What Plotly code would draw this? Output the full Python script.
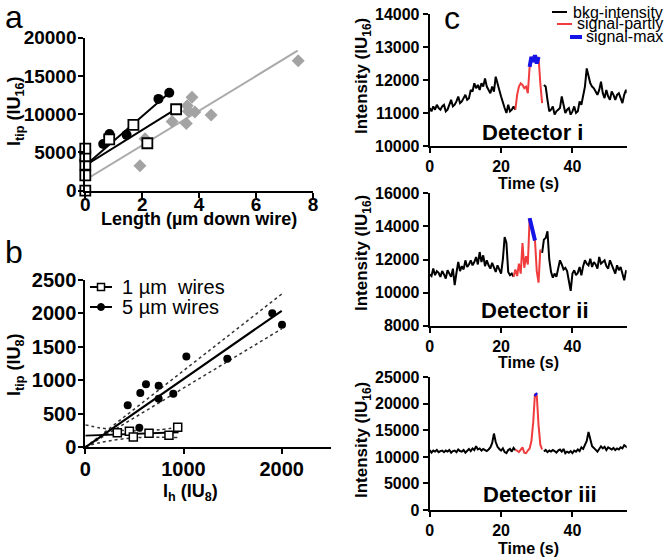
import plotly.graph_objects as go

# ---------------- Panel a data ----------------
a_circ_x = [0, 0, 0, 0.63, 0.82, 0.85, 1.45, 2.57, 2.95]
a_circ_y = [2200, 2700, 4600, 6100, 7100, 7400, 7300, 12000, 12800]
a_sq_x = [0, 0, 0, 0, 0, 0.84, 1.69, 2.18, 3.19]
a_sq_y = [0, 2000, 3400, 4500, 5500, 6700, 8600, 6200, 10650]
a_dia_x = [1.92, 2.1, 3.05, 3.55, 3.58, 3.62, 3.75, 3.85, 4.42, 7.48]
a_dia_y = [3250, 6800, 9050, 8800, 11100, 10400, 12200, 10300, 9900, 17000]
a_fit_circ_x = [0, 2.95]
a_fit_circ_y = [3300, 12800]
a_fit_sq_x = [0, 3.19]
a_fit_sq_y = [3300, 10700]
a_fit_dia_x = [0, 7.46]
a_fit_dia_y = [1400, 18300]

# ---------------- Panel b data ----------------
b_sq_x = [326, 449, 489, 649, 852, 941]
b_sq_y = [219, 239, 154, 209, 179, 299]
b_circ_x = [432, 550, 560, 618, 747, 747, 896, 1029, 1446, 1904, 2003]
b_circ_y = [628, 293, 811, 941, 921, 727, 801, 1355, 1325, 2003, 1833]
b_fit5_x = [0, 2000]
b_fit5_y = [0, 2040]
b_up5_y = [0, 2290]
b_lo5_y = [0, 1770]
b_fit1_x = [0, 950]
b_fit1_y = [175, 225]
b_band1_x = [0, 150, 300, 450, 600, 750, 950]
b_up1_y = [335, 290, 262, 248, 248, 262, 300]
b_lo1_y = [15, 70, 110, 135, 150, 150, 145]

# ---------------- Panel c data (0.5 s sampling) ----------------
det1 = [11150, 11050, 11200, 11100, 11250, 11150, 11100, 11200, 11250, 11050,
        11100, 11250, 11400, 11200, 11250, 11350, 11500, 11300, 11350, 11450,
        11550, 11400, 11450, 11700, 11650, 11900, 11750, 11850, 11700, 11900,
        11800, 12050, 11800, 11700, 11600, 11800, 11650, 12100, 11850, 11700,
        11500, 11300, 11150, 11000, 11250, 11050, 11100, 11200, 11100, 11550,
        11800, 11900, 11850, 11750, 11800, 11600, 12400, 12700, 12550, 12750,
        12500, 12700, 11900, 11300, 11850, 11800, 11400, 11050, 11100, 11200,
        10950, 11050, 11100, 11150, 11500, 11200, 11000, 11100, 11150, 10950,
        11050, 11200, 11000, 11050, 11350, 11250, 11500, 11800, 12350, 12100,
        11900, 11800, 11750, 11650, 11550, 11700, 11950, 11600, 11450, 11700,
        11500, 11400, 11650, 11550, 11400, 11550, 11600, 11450, 11300, 11550,
        11700, 11600]
det2 = [11100, 11000, 11450, 11050, 11300, 11200, 10950, 11300, 11100, 10850,
        11350, 11100, 10950, 11450, 10450, 11200, 11850, 11300, 11600, 11400,
        11950, 11550, 11700, 11950, 11650, 11850, 12150, 11700, 12450, 11850,
        12250, 11600, 11950, 11650, 11450, 11800, 11550, 11250, 11650, 11350,
        11150, 12000, 13350, 13000, 11250, 11050, 11150, 10950, 11400, 11000,
        11750, 11150, 13000, 11500, 12200, 11700, 14500, 13900, 13600, 13150,
        11300, 10600, 12600, 12400, 13200, 13300, 13700, 12000, 11250, 10900,
        11150, 10950, 11500, 11950, 11700, 11400, 11500, 11300, 10700, 10100,
        11150, 11350, 11050, 11200, 11550, 11050, 11600, 11950, 11750, 11650,
        12050, 11550, 11850, 11700, 11450, 12150, 11750, 11850, 11950, 11600,
        11450, 11950, 11700, 11400, 11150, 11650, 11350, 11550, 11200, 10750,
        11300, 11250]
det3 = [11300, 10800, 11200, 11000, 11300, 10900, 11100, 11200, 10900, 11200,
        11000, 11300, 10800, 11100, 11200, 10900, 11400, 11100, 11000, 11300,
        10800, 11200, 11500, 11100, 11600, 11300, 12000, 11400, 11600, 11200,
        11500, 11300, 11100, 11400, 11800, 12600, 14400, 12800, 11900, 11500,
        11200, 11600, 10900, 10700, 11300, 11500, 11000, 11700, 11300, 11200,
        10900, 11300, 11800, 10800, 10700, 11200, 11600, 13000, 16500, 21900,
        21600, 16000, 12300, 11400, 11000, 11300, 10900, 11200, 11000, 11300,
        11100, 10800, 11200, 11400, 11000, 11500, 10700, 11000, 10800, 11100,
        10700, 11200, 11000, 11400, 11100, 11800, 11500, 12200, 13000, 14700,
        13000, 12000, 11700, 11300, 11000, 11500, 12000, 11600, 11900, 11300,
        11800, 11600, 11400, 11700, 11300, 11600, 11400, 11800, 11600, 12200,
        12000, 11700]
# event times: red start, blue start, blue end, red end, background resumes
det1_events = [24.0, 28.0, 30.5, 31.5, 32.0]
det2_events = [23.5, 28.0, 29.5, 31.0, 31.5]
det3_events = [24.0, 29.5, 30.0, 31.5, 32.0]
det_names = ["Detector i", "Detector ii", "Detector iii"]

FONT = "Arial, Liberation Sans, sans-serif"
fig = go.Figure()

W, H = 666, 557
def px(x): return x / W
def py(y): return 1 - y / H

def axstyle(size, **kw):
    d = dict(showline=True, linecolor="black", linewidth=2, ticks="outside",
             ticklen=5, tickwidth=2, tickcolor="black", showgrid=False,
             zeroline=False, automargin=False, tickformat="d",
             tickfont=dict(family=FONT, size=size, color="black", weight="bold"))
    d.update(kw)
    return d

# Panel a
fig.add_trace(go.Scatter(x=a_fit_dia_x, y=a_fit_dia_y, mode="lines", line=dict(color="#aaaaaa", width=2),
                         xaxis="x", yaxis="y", showlegend=False))
fig.add_trace(go.Scatter(x=a_dia_x, y=a_dia_y, mode="markers",
                         marker=dict(symbol="diamond", size=10, color="#a3a3a3"),
                         xaxis="x", yaxis="y", showlegend=False, cliponaxis=False))
fig.add_trace(go.Scatter(x=a_fit_circ_x, y=a_fit_circ_y, mode="lines", line=dict(color="black", width=2),
                         xaxis="x", yaxis="y", showlegend=False))
fig.add_trace(go.Scatter(x=a_fit_sq_x, y=a_fit_sq_y, mode="lines", line=dict(color="black", width=2),
                         xaxis="x", yaxis="y", showlegend=False))
fig.add_trace(go.Scatter(x=a_circ_x, y=a_circ_y, mode="markers",
                         marker=dict(symbol="circle", size=10, color="black"),
                         xaxis="x", yaxis="y", showlegend=False, cliponaxis=False))
fig.add_trace(go.Scatter(x=a_sq_x, y=a_sq_y, mode="markers",
                         marker=dict(symbol="square", size=10, color="white", line=dict(color="black", width=1.8)),
                         xaxis="x", yaxis="y", showlegend=False, cliponaxis=False))

# Panel b
dot = dict(color="#333333", width=1.5, dash="dot")
fig.add_trace(go.Scatter(x=b_fit5_x, y=b_up5_y, mode="lines", line=dot, xaxis="x2", yaxis="y2", showlegend=False))
fig.add_trace(go.Scatter(x=b_fit5_x, y=b_lo5_y, mode="lines", line=dot, xaxis="x2", yaxis="y2", showlegend=False))
fig.add_trace(go.Scatter(x=b_band1_x, y=b_up1_y, mode="lines", line=dict(dot, shape="spline"), xaxis="x2", yaxis="y2", showlegend=False))
fig.add_trace(go.Scatter(x=b_band1_x, y=b_lo1_y, mode="lines", line=dict(dot, shape="spline"), xaxis="x2", yaxis="y2", showlegend=False))
fig.add_trace(go.Scatter(x=b_fit5_x, y=b_fit5_y, mode="lines", line=dict(color="black", width=2.2),
                         xaxis="x2", yaxis="y2", showlegend=False))
fig.add_trace(go.Scatter(x=b_fit1_x, y=b_fit1_y, mode="lines", line=dict(color="black", width=1.8),
                         xaxis="x2", yaxis="y2", showlegend=False))
fig.add_trace(go.Scatter(x=b_circ_x, y=b_circ_y, mode="markers",
                         marker=dict(symbol="circle", size=8, color="black"),
                         xaxis="x2", yaxis="y2", showlegend=False, cliponaxis=False))
fig.add_trace(go.Scatter(x=b_sq_x, y=b_sq_y, mode="markers",
                         marker=dict(symbol="square", size=8, color="white", line=dict(color="black", width=1.5)),
                         xaxis="x2", yaxis="y2", showlegend=False, cliponaxis=False))

# Panel c
def segment(t, v, lo, hi):
    xs, ys = [], []
    for ti, vi in zip(t, v):
        if lo - 1e-9 <= ti <= hi + 1e-9:
            xs.append(ti); ys.append(vi)
    return xs, ys

for k, (vals, ev) in enumerate([(det1, det1_events), (det2, det2_events), (det3, det3_events)]):
    t = [0.5 * i for i in range(len(vals))]
    xa, ya = "x%d" % (k + 3), "y%d" % (k + 3)
    bx1, by1 = segment(t, vals, 0, ev[0])
    bx2, by2 = segment(t, vals, ev[4], t[-1])
    fig.add_trace(go.Scatter(x=bx1 + [None] + bx2, y=by1 + [None] + by2, mode="lines",
                             line=dict(color="black", width=2), xaxis=xa, yaxis=ya, showlegend=False))
    rx, ry = segment(t, vals, ev[0], ev[3])
    fig.add_trace(go.Scatter(x=rx, y=ry, mode="lines", line=dict(color="#f03c3c", width=2),
                             xaxis=xa, yaxis=ya, showlegend=False))
    ux, uy = segment(t, vals, ev[1], ev[2])
    fig.add_trace(go.Scatter(x=ux, y=uy, mode="lines", line=dict(color="#1414e6", width=4),
                             xaxis=xa, yaxis=ya, showlegend=False))

layout = dict(
    width=W, height=H, margin=dict(l=0, r=0, t=0, b=0, autoexpand=False),
    paper_bgcolor="white", plot_bgcolor="white", showlegend=False,
    xaxis=axstyle(19, domain=[px(85.3), px(313)], range=[0, 8], tickvals=[0, 2, 4, 6, 8], anchor="y",
                  ticklabelstandoff=-10),
    yaxis=axstyle(19, domain=[py(190.7), py(37.7)], range=[0, 20000], tickvals=[0, 5000, 10000, 15000, 20000], anchor="x",
                  ticklabelstandoff=-2),
    xaxis2=axstyle(20, domain=[px(85.3), px(330.8)], range=[0, 2500], tickvals=[0, 1000, 2000], anchor="y2",
                   ticklabelstandoff=-2),
    yaxis2=axstyle(20, domain=[py(447.3), py(280)], range=[0, 2500], tickvals=[0, 500, 1000, 1500, 2000, 2500], anchor="x2",
                   ticklabelstandoff=-2),
)
cdom = [(146, 14, [10000, 14000], 1000), (325.7, 193.3, [8000, 16000], 2000), (510, 377.3, [0, 25000], 5000)]
for k, (b, t_, rng, dt) in enumerate(cdom):
    n = k + 3
    layout["xaxis%d" % n] = axstyle(16, domain=[px(429.7), px(626.7)], range=[0, 55.2], tickvals=[0, 20, 40], anchor="y%d" % n)
    layout["yaxis%d" % n] = axstyle(16, domain=[py(b), py(t_)], range=rng, dtick=dt, tick0=0, anchor="x%d" % n)
fig.update_layout(**layout)

def ann(text, x, y, size, bold=True, angle=0, xanchor="center", color="black"):
    fig.add_annotation(text=text, x=px(x), y=py(y), xref="paper", yref="paper", showarrow=False,
                       textangle=angle, xanchor=xanchor, yanchor="middle",
                       font=dict(family=FONT, size=size, color=color, weight="bold" if bold else "normal"))

# panel letters
ann("a", 14, 17, 32, bold=False)
ann("b", 14, 252, 32, bold=False)
ann("c", 452, 18, 32, bold=False)

# axis titles
ann("I<sub>tip</sub> (IU<sub>16</sub>)", 15, 112, 18, angle=-90)
ann("Length (µm down wire)", 199, 219, 18)
ann("I<sub>tip</sub> (IU<sub>8</sub>)", 15, 365, 18, angle=-90)
ann("I<sub>h</sub> (IU<sub>8</sub>)", 190, 492, 18)
for yc in [76, 253, 440]:
    ann("Intensity (IU<sub>16</sub>)", 363, yc, 17, angle=-90)
for yc in [183, 362, 548]:
    ann("Time (s)", 528, yc, 16)
ann(det_names[0], 532, 133, 22)
ann(det_names[1], 535, 310, 22)
ann(det_names[2], 540, 494, 22)

# panel b legend
legend_b = [("1 µm\u00a0 wires", 287, "square"), ("5 µm wires", 307, "circle")]
for label, yy, sym in legend_b:
    fig.add_shape(type="line", xref="paper", yref="paper", x0=px(90), x1=px(112), y0=py(yy), y1=py(yy),
                  line=dict(color="black", width=2))
    if sym == "square":
        fig.add_shape(type="rect", xref="paper", yref="paper", x0=px(97.5), x1=px(104.5), y0=py(yy + 3.5), y1=py(yy - 3.5),
                      line=dict(color="black", width=1.5), fillcolor="white")
    else:
        fig.add_shape(type="circle", xref="paper", yref="paper", x0=px(97.5), x1=px(104.5), y0=py(yy + 3.5), y1=py(yy - 3.5),
                      line=dict(color="black", width=1), fillcolor="black")
    ann(label, 120, yy, 20, bold=False, xanchor="left")

# panel c legend
legend_c = [("bkg-intensity", 12, 552, 567, "black", 2), ("signal-partly", 24, 557, 572, "#f03c3c", 2),
            ("signal-max", 37, 570, 582, "#1414e6", 4)]
for label, yy, x0, x1, col, w in legend_c:
    fig.add_shape(type="line", xref="paper", yref="paper", x0=px(x0), x1=px(x1), y0=py(yy), y1=py(yy),
                  line=dict(color=col, width=w))
    ann(label, 665, yy, 16, bold=False, xanchor="right")

fig.write_html("out.html", config={"displayModeBar": False},
               post_script="document.body.style.margin='0px';document.body.style.overflow='hidden';")
